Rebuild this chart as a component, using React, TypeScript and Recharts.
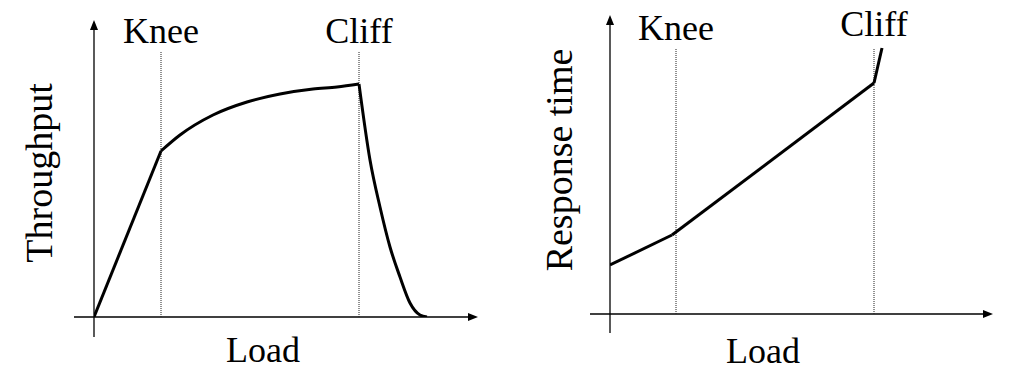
import { LineChart, Line, XAxis, YAxis, ReferenceLine } from 'recharts';

// throughput vs load (left panel)
const throughputLoad = [0, 67, 86, 119, 153, 186, 219, 243, 265, 276, 286, 296, 306, 316, 326, 333];
const throughputValues = [0, 166, 182, 202, 215, 223, 228, 230, 233, 157, 110, 70, 40, 14, 2, 0];

// response time vs load (right panel)
const responseLoad = [0, 62, 264, 272];
const responseValues = [49, 79, 231, 266];

// knee / cliff positions on the load axis
const markerNames = ['Knee', 'Cliff'];
const throughputMarkers = [67, 265];
const responseMarkers = [66, 264];

const FONT = '"Liberation Serif", "Times New Roman", serif';

const toPoints = (xs: number[], ys: number[]) => xs.map((x, i) => ({ load: x, value: ys[i] }));
const tp = toPoints(throughputLoad, throughputValues);
const rp = toPoints(responseLoad, responseValues);

const thrRise = tp.slice(0, 2);
const thrPlateau = tp.slice(1, 9);
const thrFall = tp.slice(8);
const respLow = rp.slice(0, 2);
const respMid = rp.slice(1, 3);
const respHigh = rp.slice(2);

// axis line with an arrow head at its far end
const ArrowLine = (props: any) => {
  const { x1, y1, x2, y2 } = props;
  const a = Math.atan2(y2 - y1, x2 - x1);
  const len = 10;
  const w = 4;
  const bx = x2 - len * Math.cos(a);
  const by = y2 - len * Math.sin(a);
  const px = -Math.sin(a) * w;
  const py = Math.cos(a) * w;
  return (
    <g>
      <line x1={x1} y1={y1} x2={bx} y2={by} stroke="#000" strokeWidth={1.3} />
      <polygon points={`${x2},${y2} ${bx + px},${by + py} ${bx - px},${by - py}`} fill="#000" />
    </g>
  );
};

const title = (text: string, x: number, y: number, angle = 0, size = 36) => () => (
  <text
    x={x}
    y={y}
    textAnchor="middle"
    fontFamily={FONT}
    fontSize={size}
    fill="#000"
    transform={angle ? `rotate(${angle} ${x} ${y})` : undefined}
  >
    {text}
  </text>
);

const lineProps = {
  dataKey: 'value',
  stroke: '#000',
  strokeWidth: 3,
  dot: false,
  activeDot: false,
  isAnimationActive: false,
} as const;

const App = () => {
  return (
    <div style={{ position: 'absolute', left: 0, top: 0, width: 1030, height: 371, display: 'flex', background: '#fff' }}>
      <LineChart width={520} height={371} margin={{ top: 20, right: 42, left: 94, bottom: 54 }}>
        <XAxis type="number" dataKey="load" domain={[0, 384]} allowDataOverflow hide />
        <YAxis type="number" domain={[0, 297]} allowDataOverflow hide />
        <ReferenceLine
          segment={[{ x: -20, y: 0 }, { x: 384, y: 0 }]}
          ifOverflow="visible"
          shape={ArrowLine}
          label={title('Load', 263, 362)}
        />
        <ReferenceLine
          segment={[{ x: 0, y: -20 }, { x: 0, y: 297 }]}
          ifOverflow="visible"
          shape={ArrowLine}
          label={title('Throughput', 52, 173, -90, 38)}
        />
        {throughputMarkers.map((m, i) => (
          <ReferenceLine
            key={markerNames[i]}
            segment={[{ x: m, y: 0 }, { x: m, y: 265 }]}
            ifOverflow="visible"
            stroke="#222"
            strokeWidth={1}
            strokeDasharray="1 1"
            label={{ value: markerNames[i], position: 'top', offset: 9, fontSize: 36, fontFamily: FONT, fill: '#000' }}
          />
        ))}
        <Line {...lineProps} data={thrRise} type="linear" />
        <Line {...lineProps} data={thrPlateau} type="monotoneX" />
        <Line {...lineProps} data={thrFall} type="monotoneX" />
      </LineChart>
      <LineChart width={510} height={371} margin={{ top: 15, right: 37, left: 90, bottom: 57 }}>
        <XAxis type="number" dataKey="load" domain={[0, 383]} allowDataOverflow hide />
        <YAxis type="number" domain={[0, 299]} allowDataOverflow hide />
        <ReferenceLine
          segment={[{ x: -20, y: 0 }, { x: 383, y: 0 }]}
          ifOverflow="visible"
          shape={ArrowLine}
          label={title('Load', 243, 363)}
        />
        <ReferenceLine
          segment={[{ x: 0, y: -19 }, { x: 0, y: 299 }]}
          ifOverflow="visible"
          shape={ArrowLine}
          label={title('Response time', 52, 160, -90, 38)}
        />
        {responseMarkers.map((m, i) => (
          <ReferenceLine
            key={markerNames[i]}
            segment={[{ x: m, y: 0 }, { x: m, y: 266 }]}
            ifOverflow="visible"
            stroke="#222"
            strokeWidth={1}
            strokeDasharray="1 1"
            label={{ value: markerNames[i], position: 'top', offset: i === 0 ? 8 : 12, fontSize: 36, fontFamily: FONT, fill: '#000' }}
          />
        ))}
        <Line {...lineProps} data={respLow} type="linear" />
        <Line {...lineProps} data={respMid} type="linear" />
        <Line {...lineProps} data={respHigh} type="linear" />
      </LineChart>
    </div>
  );
};

export default App;
